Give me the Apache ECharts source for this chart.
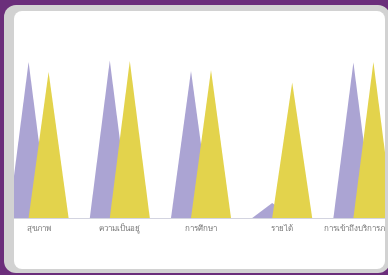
<!DOCTYPE html>
<html>
<head>
<meta charset="utf-8">
<script src="https://cdn.jsdelivr.net/npm/echarts@6/dist/echarts.min.js"></script>
<style>
  html, body { margin: 0; padding: 0; width: 388px; height: 275px; overflow: hidden; background: #6b2e7b; }
  #frame { position: absolute; left: 4px; top: 5px; width: 386px; height: 268px; background: #d2d2d2; border-radius: 12px; }
  #panel { position: absolute; left: 14px; top: 11px; width: 371px; height: 258px; background: #fff; border-radius: 8px; overflow: hidden; }
  #chart { position: absolute; left: -34px; top: -11px; width: 440px; height: 275px; }
</style>
</head>
<body>
<div id="frame"></div>
<div id="panel"><div id="chart"></div></div>
<script>
  // หมวดหมู่
  var categories = ['สุขภาพ', 'ความเป็นอยู่', 'การศึกษา', 'รายได้', 'การเข้าถึงบริการภาครัฐ'];
  var purpleValues = [78, 78.7, 73.5, 7.5, 77.7];
  var yellowValues = [73, 78.5, 74, 67.7, 78];

  var chart = echarts.init(document.getElementById('chart'));
  var option = {
    animation: false,
    grid: {
      left: 18,
      top: 18,
      width: 406,
      height: 200
    },
    xAxis: {
      type: 'category',
      data: categories,
      axisTick: { show: false },
      axisLine: { lineStyle: { color: '#d3d4e0', width: 1 } },
      axisLabel: {
        color: '#777',
        fontSize: 8,
        margin: 7,
        interval: 0,
        fontFamily: 'Noto Sans, DejaVu Sans, sans-serif'
      }
    },
    yAxis: {
      type: 'value',
      min: 0,
      max: 100,
      show: false,
      splitLine: { show: false }
    },
    series: [
      {
        type: 'pictorialBar',
        symbol: 'triangle',
        barWidth: 40,
        barGap: '-50%',
        itemStyle: { color: '#aba4d3' },
        data: purpleValues
      },
      {
        type: 'pictorialBar',
        symbol: 'triangle',
        barWidth: 40,
        barGap: '-50%',
        itemStyle: { color: '#e3d34c' },
        data: yellowValues
      }
    ]
  };
  chart.setOption(option);
</script>
</body>
</html>
